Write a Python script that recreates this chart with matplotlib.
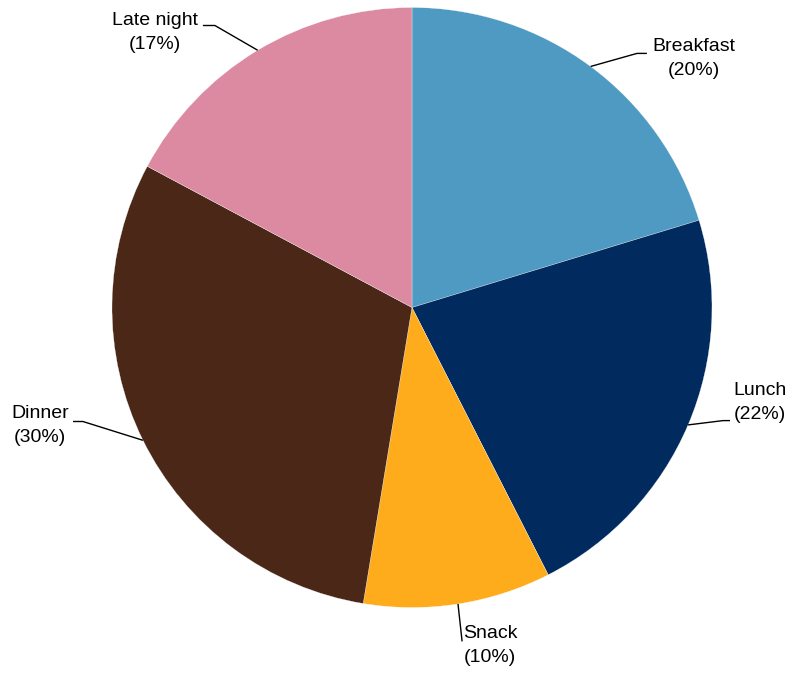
import numpy as np
import matplotlib
matplotlib.use("Agg")
import matplotlib.pyplot as plt

plt.rcParams['font.family'] = ['Liberation Sans', 'DejaVu Sans']

categories = ["Breakfast", "Lunch", "Snack", "Dinner", "Late night"]
values = [20.3, 22.2, 10.1, 30.2, 17.2]
pct_labels = ["20%", "22%", "10%", "30%", "17%"]
colors = ["#4F9AC2", "#012B5E", "#FEAB1C", "#4A2716", "#DB8AA2"]

W, H = 790, 673
cx, cy, R = 412, 307.5, 300
fig = plt.figure(figsize=(W / 100, H / 100), dpi=100)
ax = fig.add_axes([(cx - R) / W, (H - cy - R) / H, 2 * R / W, 2 * R / H])

wedges, _ = ax.pie(values, colors=colors, startangle=90, counterclock=False,
                   radius=1, center=(0, 0),
                   wedgeprops=dict(edgecolor='white', linewidth=0.2))
ax.set_xlim(-1, 1)
ax.set_ylim(-1, 1)
ax.set_aspect('equal')
ax.axis('off')

# label layout: elbow point, end of horizontal segment, text centre
layout = {
    "Breakfast": ((0.75, 0.847), (0.783, 0.847), (0.94, 0.83)),
    "Lunch": ((1.037, -0.377), (1.06, -0.377), (1.16, -0.317)),
    "Snack": ((0.167, -1.113), (0.167, -1.113), (0.26, -1.127)),
    "Dinner": ((-1.097, -0.38), (-1.13, -0.38), (-1.24, -0.393)),
    "Late night": ((-0.657, 0.94), (-0.697, 0.94), (-0.857, 0.917)),
}

for w, cat, pl in zip(wedges, categories, pct_labels):
    mid = np.deg2rad((w.theta1 + w.theta2) / 2)
    sx, sy = np.cos(mid), np.sin(mid)
    (ex, ey), (hx, hy), (tx, ty) = layout[cat]
    ax.plot([sx, ex, hx], [sy, ey, hy], color='black', lw=1.0,
            clip_on=False, solid_capstyle='butt')
    ax.text(tx, ty, f"{cat}\n({pl})", ha='center', va='center',
            fontsize=14, linespacing=1.5, color='black')

fig.savefig("out.png", dpi=100)
